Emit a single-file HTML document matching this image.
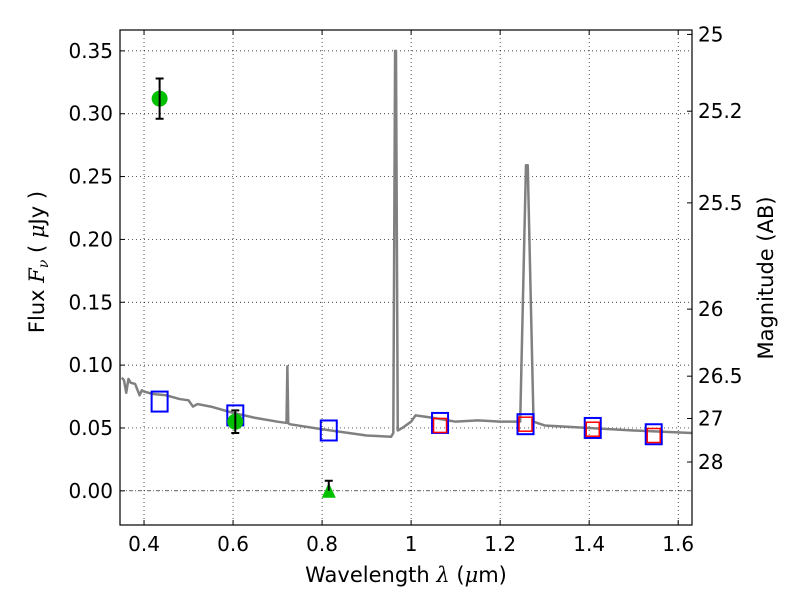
<!DOCTYPE html>
<html><head><meta charset="utf-8"><style>
body{margin:0;background:#fff}
svg text{font-family:"DejaVu Sans","Liberation Sans",sans-serif;fill:#000}
</style></head><body>
<svg id="c" width="800" height="600"></svg>
<script>
const specWave=[0.35,0.355,0.36,0.365,0.37,0.38,0.39,0.395,0.40,0.42,0.45,0.48,0.50,0.51,0.52,0.55,0.60,0.65,0.70,0.72,0.722,0.724,0.727,0.80,0.90,0.955,0.960,0.964,0.966,0.970,0.98,1.0,1.01,1.05,1.10,1.15,1.20,1.245,1.258,1.262,1.275,1.30,1.40,1.50,1.63];
const specFlux=[0.090,0.088,0.078,0.089,0.086,0.085,0.076,0.080,0.079,0.077,0.076,0.073,0.072,0.067,0.069,0.067,0.062,0.058,0.055,0.054,0.099,0.054,0.053,0.049,0.044,0.043,0.046,0.350,0.350,0.048,0.050,0.055,0.060,0.058,0.055,0.056,0.055,0.055,0.259,0.259,0.055,0.052,0.050,0.048,0.046];
const bandWave=[0.435,0.605,0.815,1.065,1.257,1.408,1.545];
const bandFlux=[0.071,0.060,0.048,0.054,0.053,0.050,0.045];
const redWave=[1.065,1.257,1.408,1.545];
const redFlux=[0.052,0.053,0.049,0.044];
const obsWave=[0.435,0.605];
const obsFlux=[0.312,0.055];
const obsErr=[0.016,0.009];
const limWave=[0.815];
const limFlux=[0.0];
const limErr=[0.008];
const xTicks=[0.4,0.6,0.8,1,1.2,1.4,1.6];
const xTickLabels=["0.4","0.6","0.8","1","1.2","1.4","1.6"];
const yTicks=[0,0.05,0.1,0.15,0.2,0.25,0.3,0.35];
const yTickLabels=["0.00","0.05","0.10","0.15","0.20","0.25","0.30","0.35"];
const magTicks=[25,25.2,25.5,26,26.5,27,28];
const magTickLabels=["25","25.2","25.5","26","26.5","27","28"];

const L=120,R=692,T=30,B=525,X0=0.346,X1=1.631,Y0=-0.0272,Y1=0.3666;
const sx=v=>L+(v-X0)/(X1-X0)*(R-L);
const sy=v=>B-(v-Y0)/(Y1-Y0)*(B-T);
const svg=document.getElementById('c');
const NS='http://www.w3.org/2000/svg';
function mk(tag,attrs,parent){const e=document.createElementNS(NS,tag);for(const k in attrs)e.setAttribute(k,attrs[k]);(parent||svg).appendChild(e);return e;}
xTicks.forEach((t,i)=>{
 const g=mk('line',{x1:sx(t),x2:sx(t),y1:T,y2:B,stroke:'#000','stroke-width':0.7,'stroke-dasharray':'1,3'});
 
 
 mk('line',{x1:sx(t),x2:sx(t),y1:B,y2:B-5,stroke:'#000'});
 mk('line',{x1:sx(t),x2:sx(t),y1:T,y2:T+5,stroke:'#000'});
 const tx=mk('text',{x:sx(t),y:B+26,'font-size':20,'text-anchor':'middle'});tx.textContent=xTickLabels[i];
 
 
});
yTicks.forEach((t,i)=>{
 const g=mk('line',{x1:L,x2:R,y1:sy(t),y2:sy(t),stroke:'#000','stroke-width':0.7,'stroke-dasharray':t===0?'4,2,1,2':'1,3'});
 
 
 mk('line',{x1:L,x2:L+5,y1:sy(t),y2:sy(t),stroke:'#000'});
 const tx=mk('text',{x:L-7,y:sy(t)+7,'font-size':20,'text-anchor':'end'});tx.textContent=yTickLabels[i];
 
 
});
magTicks.forEach((m,i)=>{
 const f=Math.pow(10,(23.9-m)/2.5);const y=sy(f);
 mk('line',{x1:R,x2:R-5,y1:y,y2:y,stroke:'#000'});
 const tx=mk('text',{x:R+6,y:y+7,'font-size':20});tx.textContent=magTickLabels[i];
 
 
});
const sp=mk('polyline',{points:specWave.map((w,i)=>sx(w)+','+sy(specFlux[i])).join(' '),fill:'none',stroke:'#808080','stroke-width':2.5,'stroke-linejoin':'round'});


bandWave.forEach((w,i)=>{
 const r=mk('rect',{x:sx(w)-8,y:sy(bandFlux[i])-10,width:16,height:20,fill:'none',stroke:'#0000ff','stroke-width':2});
 
 
});
redWave.forEach((w,i)=>{
 const r=mk('rect',{x:sx(w)-6.5,y:sy(redFlux[i])-7,width:13,height:14,fill:'none',stroke:'#ff0000','stroke-width':1.5});
 
 
});
obsWave.forEach((w,i)=>{
 const c=mk('circle',{cx:sx(w),cy:sy(obsFlux[i]),r:8,fill:'#00c000'});
 
 
 const x=sx(w),y1=sy(obsFlux[i]+obsErr[i]),y2=sy(obsFlux[i]-obsErr[i]);
 mk('path',{d:`M${x},${y1}V${y2}M${x-4},${y1}h8M${x-4},${y2}h8`,stroke:'#000','stroke-width':2,fill:'none'});
});
limWave.forEach((w,i)=>{
 const x=sx(w),y=sy(limFlux[i]);
 const t=mk('polygon',{points:`${x},${y-8} ${x-7},${y+7} ${x+7},${y+7}`,fill:'#00c000'});
 
 
 const y1=sy(limFlux[i]+limErr[i]);
 mk('path',{d:`M${x},${y1}V${y}M${x-4},${y1}h8`,stroke:'#000','stroke-width':2,fill:'none'});
});
const fr=mk('rect',{x:L,y:T,width:R-L,height:B-T,fill:'none',stroke:'#000','stroke-width':1.2});


</script>
<svg width="800" height="600" style="position:absolute;left:0;top:0">
<text x="406" y="582" font-size="21" text-anchor="middle">Wavelength  <tspan font-style="italic" font-family="DejaVu Serif">λ</tspan> (<tspan font-style="italic" font-family="DejaVu Serif">μ</tspan>m)</text>
<text transform="translate(44,262) rotate(-90)" font-size="21" text-anchor="middle">Flux  <tspan font-style="italic" font-family="DejaVu Serif">F<tspan font-size="14" dy="4">ν</tspan></tspan><tspan dy="-4">  (  </tspan><tspan font-style="italic" font-family="DejaVu Serif">μ</tspan>Jy )</text>
<text transform="translate(773,278) rotate(-90)" font-size="21" text-anchor="middle">Magnitude (AB)</text>
</svg>
</body></html>
